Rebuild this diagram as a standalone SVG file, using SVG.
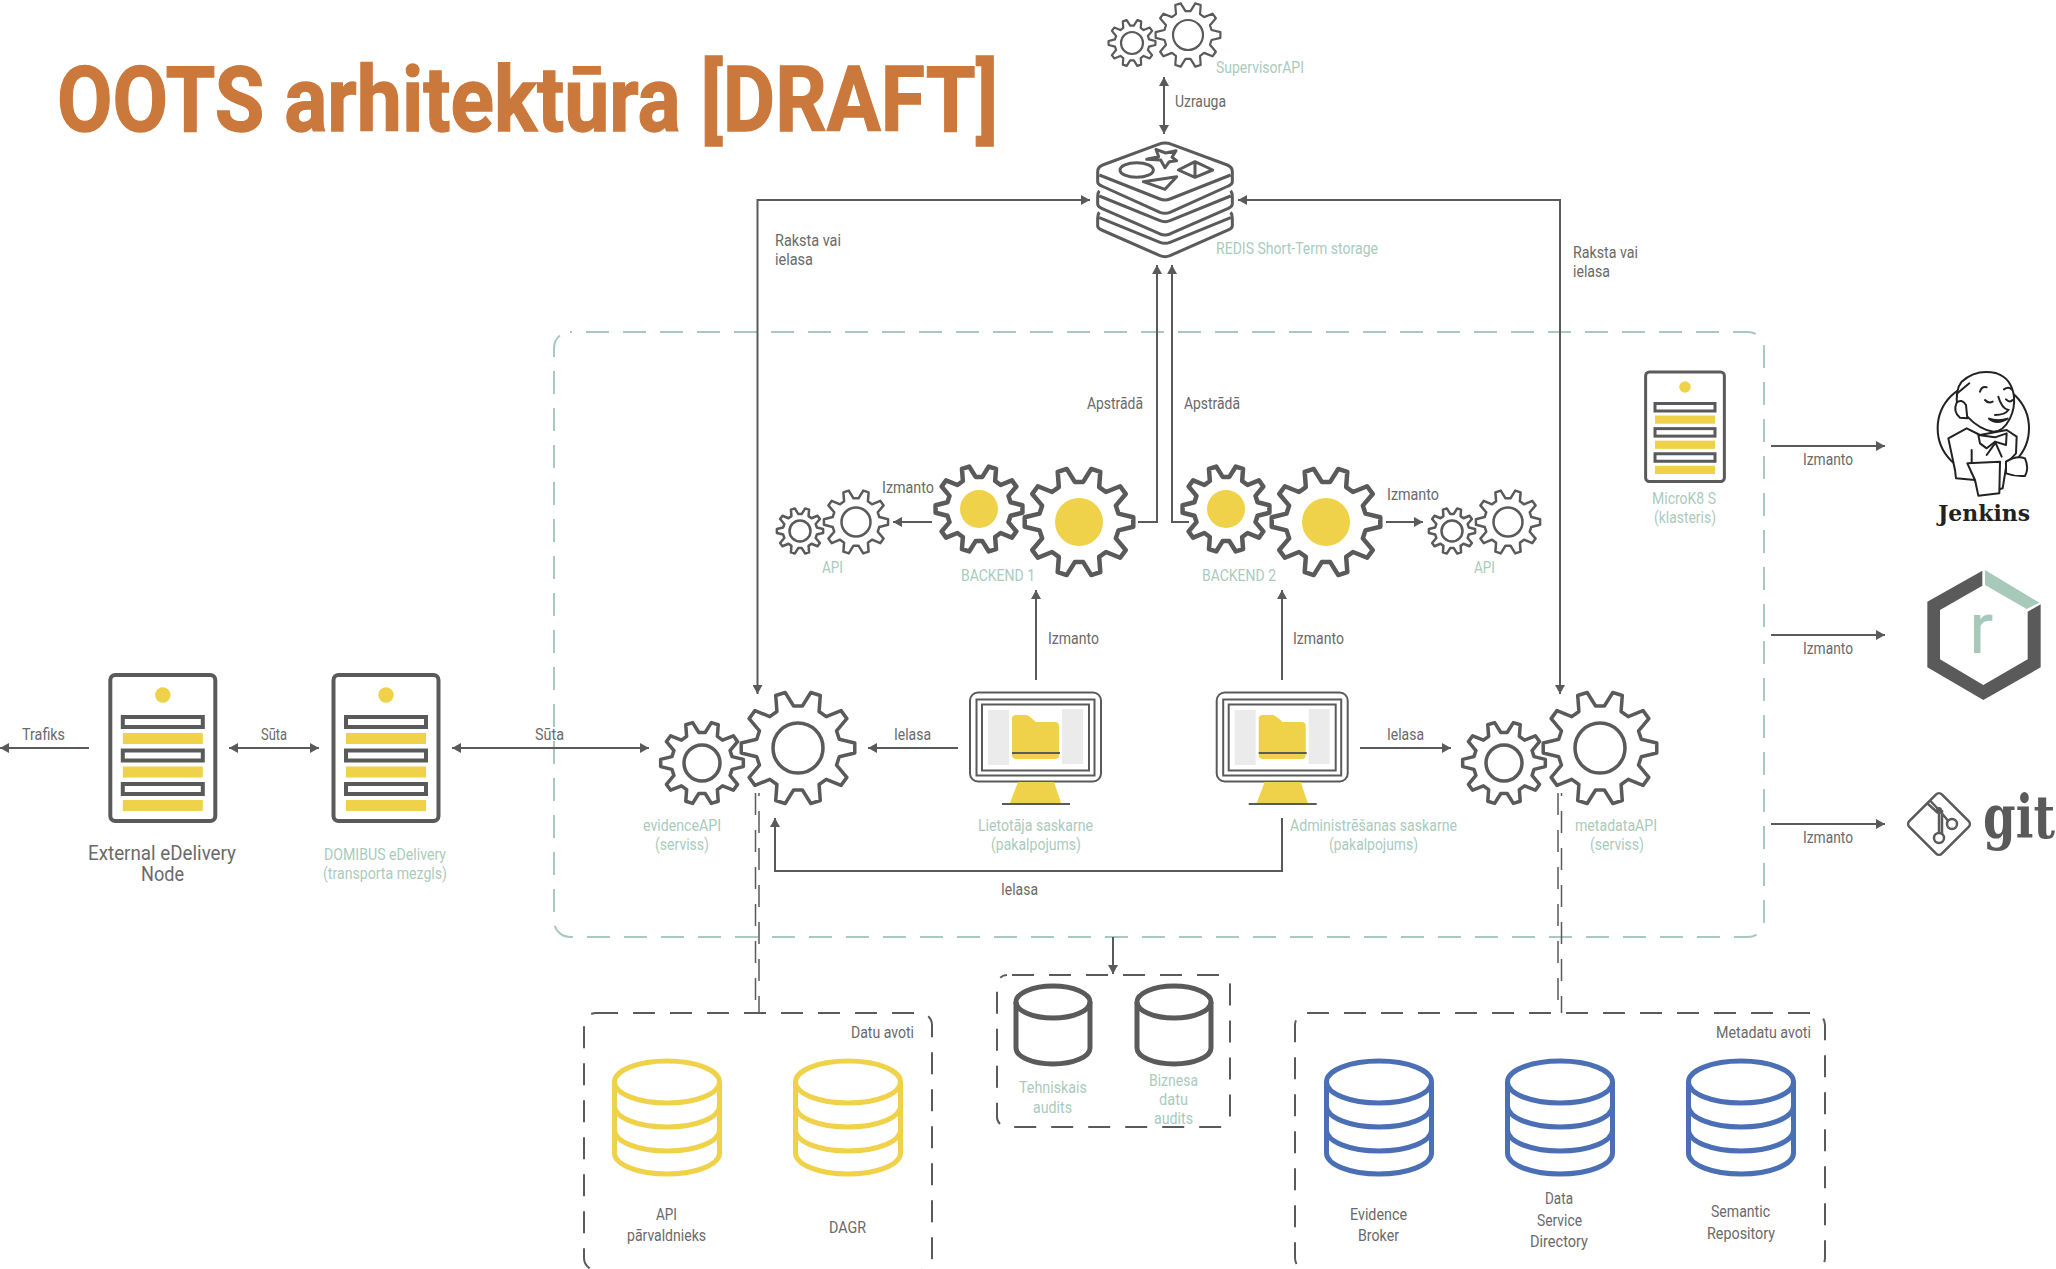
<svg xmlns="http://www.w3.org/2000/svg" width="2056" height="1269" viewBox="0 0 2056 1269">
<style>
text{font-family:Roboto,"Liberation Sans",sans-serif}
.l{font-size:16.5px;fill:#6a6a6a}
.g{font-size:16.5px;fill:#a9cbbd}
.c{fill:none;stroke:#5a5a5a;stroke-width:2}
.a{marker-end:url(#ah)}
.b{marker-end:url(#ah);marker-start:url(#ah)}
.gear{fill:#fff;stroke:#5a5a5a;stroke-linejoin:round}
.hole{fill:none;stroke:#5a5a5a}
.y{fill:#f0d24a}
.dk{fill:none;stroke:#5a5a5a;stroke-width:2;stroke-dasharray:22 15}
.gr{fill:none;stroke:#a8c9bb;stroke-width:2;stroke-dasharray:23 14;stroke-dashoffset:21}
.cy{fill:none;stroke:#f0d24a;stroke-width:5}
.cb{fill:none;stroke:#4a6fb5;stroke-width:5}
.cg{fill:none;stroke:#5a5a5a;stroke-width:5}
.s{fill:none;stroke:#5a5a5a;stroke-width:4}
.m{fill:none;stroke:#5a5a5a;stroke-width:2}
.f{fill:none;stroke:#5a5a5a;stroke-width:9;stroke-linejoin:round}
.j{fill:#fff;stroke:#222;stroke-width:6;stroke-linejoin:round;stroke-linecap:round}
.jn{fill:none;stroke:#222;stroke-width:6;stroke-linecap:round}
</style>
<defs>
<marker id="ah" viewBox="0 0 9 10" refX="9" refY="5" markerWidth="9" markerHeight="10" markerUnits="userSpaceOnUse" orient="auto-start-reverse"><path d="M0,0L9,5L0,10Z" fill="#5a5a5a"/></marker>
<path id="gearp" class="gear" vector-effect="non-scaling-stroke" d="M22.5,-97.4L39.1,-92.1 37,-64.1 49.5,-55 75.5,-65.6 85.7,-51.5 67.6,-30.1 72.4,-15.4 99.6,-8.7 99.6,8.7 72.4,15.4 67.6,30.1 85.7,51.5 75.5,65.6 49.5,55 37,64.1 39.1,92.1 22.5,97.4 7.7,73.6 -7.7,73.6 -22.5,97.4 -39.1,92.1 -37,64.1 -49.5,55 -75.5,65.6 -85.7,51.5 -67.6,30.1 -72.4,15.4 -99.6,8.7 -99.6,-8.7 -72.4,-15.4 -67.6,-30.1 -85.7,-51.5 -75.5,-65.6 -49.5,-55 -37,-64.1 -39.1,-92.1 -22.5,-97.4 -7.7,-73.6 7.7,-73.6Z"/>
<g id="server">
<rect class="s" x="-52.5" y="0" width="105" height="146" rx="5" fill="#fff"/>
<circle class="y" cx="0" cy="20" r="7.7"/>
<rect class="s" x="-40" y="42" width="80" height="10"/><rect class="y" x="-40" y="58" width="80" height="11"/>
<rect class="s" x="-40" y="75.5" width="80" height="10"/><rect class="y" x="-40" y="91.5" width="80" height="11"/>
<rect class="s" x="-40" y="109" width="80" height="10"/><rect class="y" x="-40" y="125" width="80" height="11"/>
</g>
<g id="monitor">
<rect class="m" x="970" y="692.5" width="131" height="89" rx="8"/>
<rect class="m" x="976.5" y="699.5" width="118" height="76"/>
<rect class="m" x="982" y="704.5" width="107" height="66"/>
<rect x="988" y="710" width="21" height="55" fill="#ebebeb"/>
<rect x="1062" y="709" width="21" height="55" fill="#ebebeb"/>
<path class="y" d="M1012,719q0,-4 4,-4H1026q2,0 4,2L1036,722H1055q4,0 4,4V755q0,4 -4,4H1016q-4,0 -4,-4Z"/>
<path class="m" d="M1012,753H1060"/>
<path class="y" d="M1018,782H1054L1061,803H1010Z"/>
<path class="m" d="M1002,804H1070"/>
</g>
<g id="cyl"><ellipse cx="0" cy="0" rx="52.5" ry="21"/><path d="M-52.5,0V71A52.5,21 0 0 0 52.5,71V0M-52.5,24A52.5,21 0 0 0 52.5,24M-52.5,48A52.5,21 0 0 0 52.5,48"/></g>
<g id="cyl2"><ellipse cx="0" cy="0" rx="37" ry="16"/><path d="M-37,0V46A37,16 0 0 0 37,46V0"/></g>
</defs>

<text id="title" x="57" y="131" font-size="91" font-weight="700" fill="#cb783c" stroke="#cb783c" stroke-width="1.3" textLength="941" lengthAdjust="spacingAndGlyphs">OOTS arhitektūra [DRAFT]</text>

<g id="frames">
<rect class="gr" x="554" y="332" width="1210" height="605" rx="16"/>
<rect class="dk" x="584" y="1013" width="348" height="257" rx="12"/>
<rect class="dk" x="1295" y="1013" width="530" height="257" rx="12"/>
<rect class="dk" x="997" y="975" width="233" height="152" rx="10" stroke-dashoffset="32"/>
</g>

<g id="connectors">
<path class="c a" d="M89,748H0"/>
<path class="c b" d="M229,748H319"/>
<path class="c b" d="M452,748H649"/>
<path class="c a" d="M958,748H868"/>
<path class="c a" d="M1360,748H1451"/>
<path class="c a" d="M1036,680V590"/>
<path class="c a" d="M1282,680V590"/>
<path class="c a" d="M932,522H893"/>
<path class="c a" d="M1386,522H1423"/>
<path class="c a" d="M1138,522H1157V265"/>
<path class="c a" d="M1189,522H1172V265"/>
<path class="c b" d="M1090,200H757.5V694"/>
<path class="c b" d="M1238,200H1560V694"/>
<path class="c b" d="M1164,77V134"/>
<path class="c a" d="M1282,818V871H775V818"/>
<path class="c a" d="M1113,937V974"/>
<path class="c a" d="M1771,446H1885"/>
<path class="c a" d="M1771,635H1885"/>
<path class="c a" d="M1771,824H1885"/>
<path class="dk" style="stroke-width:1.5" d="M755.5,793V1013M1558,793V1013"/>
<path class="dk" style="stroke-width:1.5;stroke-dashoffset:19" d="M759,793V1013M1561.5,793V1013"/>
</g>

<g id="supervisor">
<use href="#gearp" transform="translate(1132,43) scale(.235)" stroke-width="2.2"/><circle class="hole" cx="1132" cy="43" r="11" stroke-width="2.2"/>
<use href="#gearp" transform="translate(1188,35) scale(.325)" stroke-width="2.2"/><circle class="hole" cx="1188" cy="35" r="15" stroke-width="2.2"/>
<text class="g" x="1216" y="73" textLength="88" lengthAdjust="spacingAndGlyphs">SupervisorAPI</text>
</g>

<g id="redis" >
<g transform="translate(1050,0) scale(.33333)">
<path class="f" d="M325,433Q345,425 365,433L532,495Q547,501 547,515V545Q547,553 535,558L360,637Q345,643 330,637L155,558Q143,553 143,545V515Q143,501 158,495Z"/>
<path class="f" d="M148,525L330,597Q345,603 360,597L542,525"/>
<path class="f" d="M148,572Q143,578 143,590V612Q143,620 155,625L330,702Q345,708 360,702L535,625Q547,620 547,612V590Q547,578 542,572M148,588L330,662Q345,668 360,662L542,588"/>
<path class="f" d="M148,637Q143,643 143,655V677Q143,685 155,690L330,767Q345,773 360,767L535,690Q547,685 547,677V655Q547,643 542,637M148,653L330,727Q345,733 360,727L542,653"/>
<ellipse class="f" cx="260" cy="510" rx="50" ry="22"/>
<path class="f" d="M318,448L347,459 378,452 366,472 380,482 358,485 345,503 332,480 290,478 326,470Z"/>
<path class="f" d="M385,510L435,485 488,510 435,532ZM435,485V532"/>
<path class="f" d="M280,545L380,530 345,568Z"/>
</g>
<text class="g" x="1216" y="254" textLength="162" lengthAdjust="spacingAndGlyphs">REDIS Short-Term storage</text>
</g>

<g id="api1">
<use href="#gearp" transform="translate(800,531) scale(.232)" stroke-width="2.5"/><circle class="hole" cx="800" cy="531" r="10.5" stroke-width="2.5"/>
<use href="#gearp" transform="translate(856,522) scale(.322)" stroke-width="2.5"/><circle class="hole" cx="856" cy="522" r="14.5" stroke-width="2.5"/>
<text class="g" x="822" y="573" textLength="21" lengthAdjust="spacingAndGlyphs">API</text>
</g>
<g id="backend1">
<use href="#gearp" transform="translate(979,509) scale(.436)" stroke-width="4.5"/><circle class="y" cx="979" cy="509" r="19"/>
<use href="#gearp" transform="translate(1079,522) scale(.545)" stroke-width="4.5"/><circle class="y" cx="1079" cy="522" r="24"/>
<text class="g" x="961" y="581" textLength="74" lengthAdjust="spacingAndGlyphs">BACKEND 1</text>
</g>
<g id="backend2">
<use href="#gearp" transform="translate(1226,509) scale(.436)" stroke-width="4.5"/><circle class="y" cx="1226" cy="509" r="19"/>
<use href="#gearp" transform="translate(1326,522) scale(.545)" stroke-width="4.5"/><circle class="y" cx="1326" cy="522" r="24"/>
<text class="g" x="1202" y="581" textLength="74" lengthAdjust="spacingAndGlyphs">BACKEND 2</text>
</g>
<g id="api2">
<use href="#gearp" transform="translate(1452,531) scale(.232)" stroke-width="2.5"/><circle class="hole" cx="1452" cy="531" r="10.5" stroke-width="2.5"/>
<use href="#gearp" transform="translate(1508,522) scale(.322)" stroke-width="2.5"/><circle class="hole" cx="1508" cy="522" r="14.5" stroke-width="2.5"/>
<text class="g" x="1474" y="573" textLength="21" lengthAdjust="spacingAndGlyphs">API</text>
</g>
<g id="evidenceAPI">
<use href="#gearp" transform="translate(702,763) scale(.415)" stroke-width="3.5"/><circle class="hole" cx="702" cy="763" r="18" stroke-width="3.5"/>
<use href="#gearp" transform="translate(798,748) scale(.57)" stroke-width="3.5"/><circle class="hole" cx="798" cy="748" r="25" stroke-width="3.5"/>
<text class="g" x="643" y="831" textLength="78" lengthAdjust="spacingAndGlyphs">evidenceAPI</text>
<text class="g" x="655" y="850" textLength="54" lengthAdjust="spacingAndGlyphs">(serviss)</text>
</g>
<g id="metadataAPI">
<use href="#gearp" transform="translate(1504,763) scale(.415)" stroke-width="3.5"/><circle class="hole" cx="1504" cy="763" r="18" stroke-width="3.5"/>
<use href="#gearp" transform="translate(1600,748) scale(.57)" stroke-width="3.5"/><circle class="hole" cx="1600" cy="748" r="25" stroke-width="3.5"/>
<text class="g" x="1575" y="831" textLength="82" lengthAdjust="spacingAndGlyphs">metadataAPI</text>
<text class="g" x="1590" y="850" textLength="54" lengthAdjust="spacingAndGlyphs">(serviss)</text>
</g>

<g id="external">
<use href="#server" transform="translate(162.8,675)"/>
<text x="88" y="860" font-size="21" fill="#6a6a6a" textLength="148" lengthAdjust="spacingAndGlyphs">External eDelivery</text>
<text x="141" y="881" font-size="21" fill="#6a6a6a" textLength="43" lengthAdjust="spacingAndGlyphs">Node</text>
</g>
<g id="domibus">
<use href="#server" transform="translate(386,675)"/>
<text class="g" x="324" y="860" textLength="122" lengthAdjust="spacingAndGlyphs">DOMIBUS eDelivery</text>
<text class="g" x="323" y="879" textLength="124" lengthAdjust="spacingAndGlyphs">(transporta mezgls)</text>
</g>
<g id="microk8s">
<use href="#server" transform="translate(1685,372) scale(.75)"/>
<text class="g" x="1652" y="504" textLength="64" lengthAdjust="spacingAndGlyphs">MicroK8 S</text>
<text class="g" x="1654" y="523" textLength="62" lengthAdjust="spacingAndGlyphs">(klasteris)</text>
</g>

<g id="lietotaja">
<use href="#monitor"/>
<text class="g" x="978" y="831" textLength="115" lengthAdjust="spacingAndGlyphs">Lietotāja saskarne</text>
<text class="g" x="991" y="850" textLength="90" lengthAdjust="spacingAndGlyphs">(pakalpojums)</text>
</g>
<g id="admin">
<use href="#monitor" transform="translate(246.7,0)"/>
<text class="g" x="1290" y="831" textLength="167" lengthAdjust="spacingAndGlyphs">Administrēšanas saskarne</text>
<text class="g" x="1329" y="850" textLength="89" lengthAdjust="spacingAndGlyphs">(pakalpojums)</text>
</g>

<g id="db-api" class="cy"><use href="#cyl" transform="translate(667,1082)"/><text class="l" x="656" y="1220" stroke="none" textLength="21" lengthAdjust="spacingAndGlyphs">API</text><text class="l" x="627" y="1241" stroke="none" textLength="79" lengthAdjust="spacingAndGlyphs">pārvaldnieks</text></g>
<g id="db-dagr" class="cy"><use href="#cyl" transform="translate(848,1082)"/><text class="l" x="829" y="1233" stroke="none" textLength="37" lengthAdjust="spacingAndGlyphs">DAGR</text></g>
<g id="db-broker" class="cb"><use href="#cyl" transform="translate(1379,1082)"/><text class="l" x="1350" y="1220" stroke="none" textLength="57" lengthAdjust="spacingAndGlyphs">Evidence</text><text class="l" x="1358" y="1241" stroke="none" textLength="41" lengthAdjust="spacingAndGlyphs">Broker</text></g>
<g id="db-dsd" class="cb"><use href="#cyl" transform="translate(1560,1082)"/><text class="l" x="1545" y="1204" stroke="none" textLength="28" lengthAdjust="spacingAndGlyphs">Data</text><text class="l" x="1537" y="1226" stroke="none" textLength="45" lengthAdjust="spacingAndGlyphs">Service</text><text class="l" x="1530" y="1247" stroke="none" textLength="58" lengthAdjust="spacingAndGlyphs">Directory</text></g>
<g id="db-sem" class="cb"><use href="#cyl" transform="translate(1741,1082)"/><text class="l" x="1711" y="1217" stroke="none" textLength="59" lengthAdjust="spacingAndGlyphs">Semantic</text><text class="l" x="1707" y="1239" stroke="none" textLength="68" lengthAdjust="spacingAndGlyphs">Repository</text></g>
<g id="db-tech" class="cg"><use href="#cyl2" transform="translate(1053,1002)"/><text class="g" x="1019" y="1093" stroke="none" textLength="68" lengthAdjust="spacingAndGlyphs">Tehniskais</text><text class="g" x="1033" y="1113" stroke="none" textLength="39" lengthAdjust="spacingAndGlyphs">audits</text></g>
<g id="db-biz" class="cg"><use href="#cyl2" transform="translate(1174,1002)"/><text class="g" x="1149" y="1086" stroke="none" textLength="49" lengthAdjust="spacingAndGlyphs">Biznesa</text><text class="g" x="1159" y="1105" stroke="none" textLength="29" lengthAdjust="spacingAndGlyphs">datu</text><text class="g" x="1154" y="1124" stroke="none" textLength="39" lengthAdjust="spacingAndGlyphs">audits</text></g>

<g id="jenkins">
<g transform="translate(1880,350) scale(.33333)">
<circle cx="310" cy="235" r="137" fill="none" stroke="#222" stroke-width="6"/>
<path class="j" d="M205,265L260,235 300,255 380,240 410,260 408,310 380,340 368,415 300,435 285,390 228,385 225,360Z"/>
<path class="j" d="M232,170Q225,120 245,95Q290,55 350,70Q395,85 402,140Q405,175 390,205Q370,245 340,245Q300,240 262,200Z"/>
<path class="j" d="M258,165Q245,145 230,158Q218,185 240,203L262,205Z"/>
<path class="jn" d="M232,130L268,100M300,125Q305,108 320,112M372,118Q385,108 395,118M315,150Q325,162 338,155M378,148Q390,160 398,150M355,140Q365,175 385,180Q375,195 345,195"/>
<path d="M325,205Q350,228 385,205Q355,215 325,205Z" fill="#222" stroke="#222" stroke-width="5"/>
<path class="j" d="M295,255L345,262 380,250 378,285 345,275 320,295 300,280Z"/>
<path class="jn" d="M345,275L365,320M345,280L320,315M275,300V370"/>
<path class="j" d="M262,340L360,335 358,430 295,437 285,390Z"/>
<path class="j" d="M378,335Q410,315 435,325Q448,355 435,378Q405,380 378,370Z"/>
</g>
<text x="1938" y="521" style="font-family:'DejaVu Serif',serif" font-size="22" font-weight="700" fill="#222" textLength="92" lengthAdjust="spacingAndGlyphs">Jenkins</text>
</g>

<g id="redmine">
<g transform="translate(1780,560) scale(.33333)">
<path fill="#5a5a5a" d="M607,32L442,125V322L610,420 782,322V133L743,155V298L610,375 480,298V150L607,77Z"/>
<path fill="#a6c9ba" d="M615,30L778,128 740,147 615,75Z"/>
</g>
<text x="1969" y="653" font-size="72" font-weight="400" fill="#a6c9ba">r</text>
</g>

<g id="git">
<g transform="translate(1939,824)">
<rect x="-23" y="-23" width="46" height="46" rx="4" transform="rotate(45)" fill="none" stroke="#5a5a5a" stroke-width="2.5"/>
<path fill="none" stroke="#5a5a5a" stroke-width="2.5" d="M-9.5,-24L0,-14 11,-1M-12,-21L-1,-11M0,-14V10M3,-14V10"/>
<circle cx="0" cy="-14" r="3" fill="#5a5a5a"/>
<circle cx="13" cy="0" r="5" fill="#fff" stroke="#5a5a5a" stroke-width="2.5"/>
<circle cx="0" cy="14" r="5" fill="#fff" stroke="#5a5a5a" stroke-width="2.5"/>
</g>
<text x="1983" y="838" style="font-family:'DejaVu Serif',serif" font-size="60" font-weight="700" fill="#5a5a5a" textLength="72" lengthAdjust="spacingAndGlyphs">git</text>
</g>

<g id="labels">
<text class="l" x="22" y="740" textLength="43" lengthAdjust="spacingAndGlyphs">Trafiks</text>
<text class="l" x="261" y="740" textLength="26" lengthAdjust="spacingAndGlyphs">Sūta</text>
<text class="l" x="535" y="740" textLength="29" lengthAdjust="spacingAndGlyphs">Sūta</text>
<text class="l" x="894" y="740" textLength="37" lengthAdjust="spacingAndGlyphs">Ielasa</text>
<text class="l" x="1387" y="740" textLength="37" lengthAdjust="spacingAndGlyphs">Ielasa</text>
<text class="l" x="1001" y="895" textLength="37" lengthAdjust="spacingAndGlyphs">Ielasa</text>
<text class="l" x="1048" y="644" textLength="51" lengthAdjust="spacingAndGlyphs">Izmanto</text>
<text class="l" x="1293" y="644" textLength="51" lengthAdjust="spacingAndGlyphs">Izmanto</text>
<text class="l" x="882" y="493" textLength="52" lengthAdjust="spacingAndGlyphs">Izmanto</text>
<text class="l" x="1387" y="500" textLength="52" lengthAdjust="spacingAndGlyphs">Izmanto</text>
<text class="l" x="1087" y="409" textLength="56" lengthAdjust="spacingAndGlyphs">Apstrādā</text>
<text class="l" x="1184" y="409" textLength="56" lengthAdjust="spacingAndGlyphs">Apstrādā</text>
<text class="l" x="775" y="246" textLength="66" lengthAdjust="spacingAndGlyphs">Raksta vai</text>
<text class="l" x="775" y="265" textLength="38" lengthAdjust="spacingAndGlyphs">ielasa</text>
<text class="l" x="1573" y="258" textLength="65" lengthAdjust="spacingAndGlyphs">Raksta vai</text>
<text class="l" x="1573" y="277" textLength="37" lengthAdjust="spacingAndGlyphs">ielasa</text>
<text class="l" x="1175" y="107" textLength="51" lengthAdjust="spacingAndGlyphs">Uzrauga</text>
<text class="l" x="1803" y="465" textLength="50" lengthAdjust="spacingAndGlyphs">Izmanto</text>
<text class="l" x="1803" y="654" textLength="50" lengthAdjust="spacingAndGlyphs">Izmanto</text>
<text class="l" x="1803" y="843" textLength="50" lengthAdjust="spacingAndGlyphs">Izmanto</text>
<text class="l" x="851" y="1038" textLength="63" lengthAdjust="spacingAndGlyphs">Datu avoti</text>
<text class="l" x="1716" y="1038" textLength="95" lengthAdjust="spacingAndGlyphs">Metadatu avoti</text>
</g>
</svg>
